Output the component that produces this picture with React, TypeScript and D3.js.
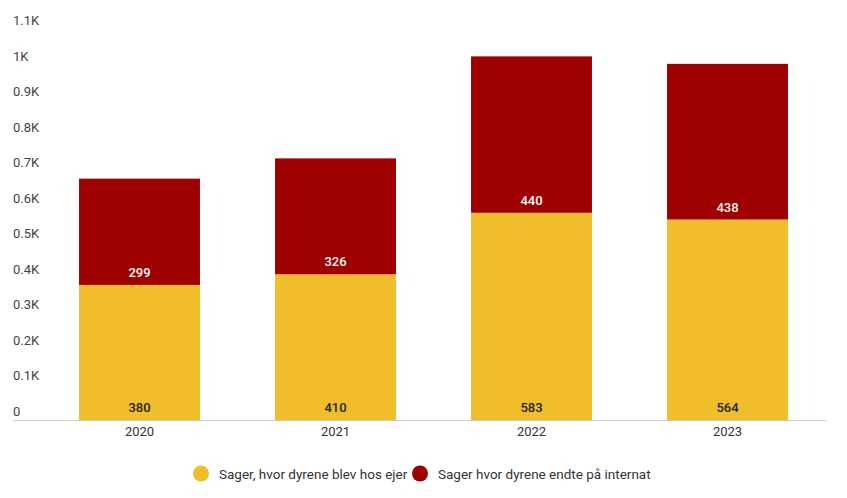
import React from "react";
import * as d3 from "d3";

const years = ["2020", "2021", "2022", "2023"];
const ejer = [380, 410, 583, 564];
const internet = [299, 326, 440, 438];
const yTicks = [0, 100, 200, 300, 400, 500, 600, 700, 800, 900, 1000, 1100];
const yTickLabels = ["0", "0.1K", "0.2K", "0.3K", "0.4K", "0.5K", "0.6K", "0.7K", "0.8K", "0.9K", "1K", "1.1K"];
const seriesNames = ["Sager, hvor dyrene blev hos ejer", "Sager hvor dyrene endte på internat"];
const colors = ["#F0BD2B", "#9E0000"];

export default function App() {
  const W = 847, H = 498;
  const x = d3.scaleBand<string>().domain(years).range([41.5, 825.5]).paddingInner(0.383).paddingOuter(0.1915);
  const y = d3.scaleLinear().domain([0, 1100]).range([420, 29]);
  const font = "Roboto, 'Noto Sans', sans-serif";
  return (
    <svg width={W} height={H} style={{ position: "absolute", left: 0, top: 0 }} fontFamily={font}>
      {yTicks.map((t, i) => (
        <text key={t} x={13} y={y(t) - 4} fontSize={13} fill="#444">{yTickLabels[i]}</text>
      ))}
      {years.map((yr, i) => {
        const x0 = x(yr)!;
        const bw = x.bandwidth();
        const top1 = y(ejer[i]);
        const top2 = y(ejer[i] + internet[i]);
        return (
          <g key={yr}>
            <rect x={x0} y={top1} width={bw} height={y(0) - top1} fill={colors[0]} />
            <rect x={x0} y={top2} width={bw} height={top1 - top2} fill={colors[1]} />
            <text x={x0 + bw / 2} y={y(0) - 8} textAnchor="middle" fontSize={13} fontWeight={500} fill="#222">{ejer[i]}</text>
            <text x={x0 + bw / 2} y={top1 - 8} textAnchor="middle" fontSize={13} fontWeight={500} fill="#fff">{internet[i]}</text>
            <text x={x0 + bw / 2} y={436} textAnchor="middle" fontSize={13} fill="#333">{yr}</text>
          </g>
        );
      })}
      <line x1={13} x2={826} y1={y(0) + 0.5} y2={y(0) + 0.5} stroke="#ccc" />
      <circle cx={201} cy={473.5} r={8} fill={colors[0]} />
      <text x={219} y={478.5} fontSize={13.5} fill="#333">{seriesNames[0]}</text>
      <circle cx={420} cy={473.5} r={8} fill={colors[1]} />
      <text x={438} y={478.5} fontSize={13.5} fill="#333">{seriesNames[1]}</text>
    </svg>
  );
}
